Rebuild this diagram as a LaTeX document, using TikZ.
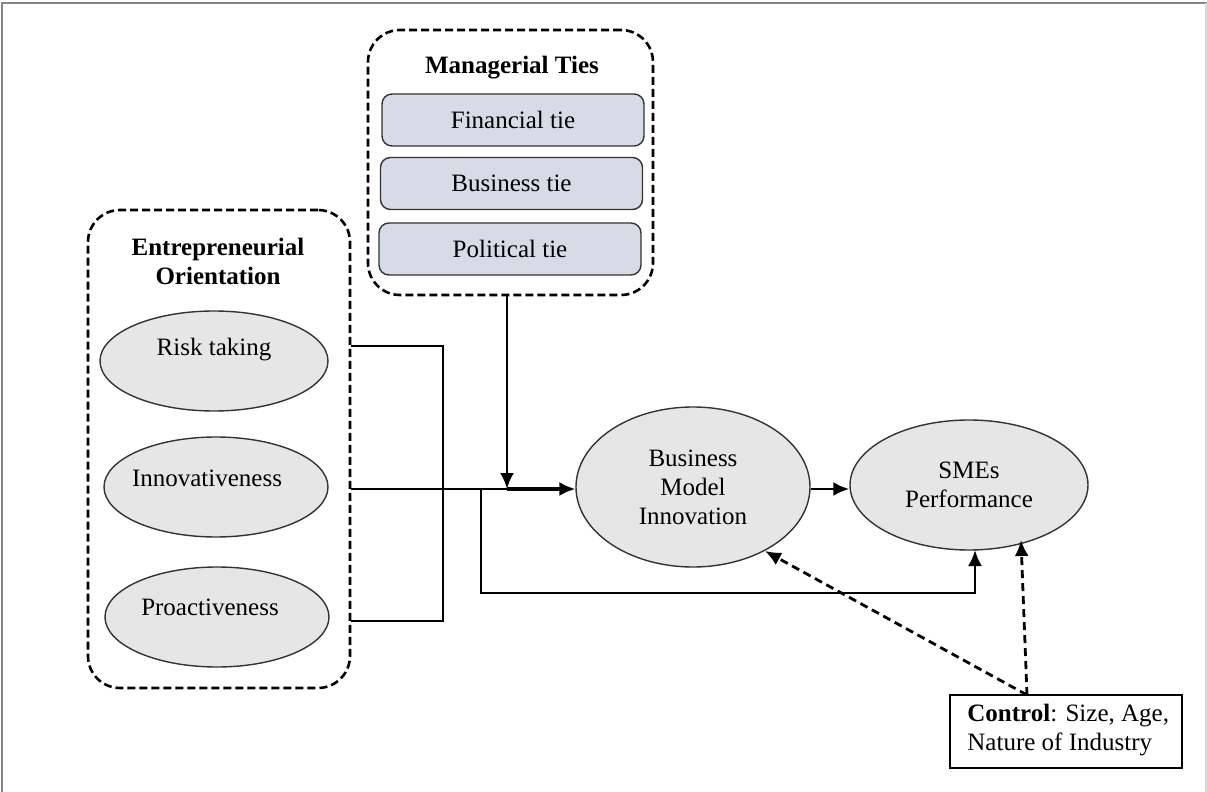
\documentclass[tikz,border=0pt]{standalone}
\usepackage{fontspec}
\setmainfont{Liberation Serif}
\usetikzlibrary{arrows.meta,shapes.geometric,calc}
\definecolor{ovalfill}{HTML}{E6E6E6}
\definecolor{tiefill}{HTML}{D6DCE5}
\definecolor{framegray}{HTML}{858585}
\begin{document}
\begin{tikzpicture}[x=0.5pt,y=-0.5pt,
  every node/.style={font=\fontsize{12.5}{14.5}\selectfont},
  group/.style={draw=black,line width=1.3pt,dash pattern=on 4pt off 2pt,rounded corners=16pt,inner sep=0pt},
  tiebox/.style={draw=black!80,line width=0.7pt,fill=tiefill,rounded corners=5pt,inner sep=0pt,minimum width=131pt,minimum height=26pt},
  oval/.style={ellipse,draw=black!80,line width=0.7pt,fill=ovalfill,inner sep=0pt},
  txt/.style={inner sep=0pt,align=center},
  link/.style={line width=1.3pt,line join=miter},
  arr/.style={link,-{Latex[length=8pt,width=7pt]}},
  dasharr/.style={line width=1.4pt,dash pattern=on 4pt off 2.5pt,-{Latex[length=8pt,width=7pt]}},
  ctrl/.style={draw=black,line width=0.9pt,inner sep=0pt,minimum width=116pt,minimum height=36.5pt}
]
\useasboundingbox (0,0) rectangle (1207,792);

% page frame
\draw[framegray,line width=1.4pt] (2,792) -- (2,3) -- (1207,3);
\draw[black!15,line width=0.6pt] (1206,3) -- (1206,792);

% Managerial ties group
\node[group,minimum width=142.5pt,minimum height=132.5pt] (mt) at (510.5,162.5) {};
\node[txt,font=\fontsize{12.5}{14.5}\selectfont\bfseries] (mttitle) at (512,68) {Managerial Ties};
\node[tiebox] (fin) at (513,120) {Financial tie};
\node[tiebox] (bus) at (511.5,183.5) {Business tie};
\node[tiebox] (pol) at (510,249) {Political tie};

% Entrepreneurial orientation group
\node[group,minimum width=131pt,minimum height=239pt] (eo) at (219,449) {};
\node[txt,font=\fontsize{12.5}{14.5}\selectfont\bfseries] (eotitle) at (218,261.5) {Entrepreneurial\\Orientation};
\node[oval,minimum width=114pt,minimum height=50pt] (risk) at (214,361) {};
\node[txt] (risktxt) at (214,350) {Risk taking};
\node[oval,minimum width=112pt,minimum height=50pt] (innov) at (216,487) {};
\node[txt] (innovtxt) at (207,478) {Innovativeness};
\node[oval,minimum width=112pt,minimum height=50pt] (proact) at (217,617) {};
\node[txt] (proacttxt) at (210,607) {Proactiveness};

% outcome constructs
\node[oval,minimum width=117pt,minimum height=80pt,align=center] (bmi) at (693,487) {Business\\Model\\Innovation};
\node[oval,minimum width=119pt,minimum height=65pt,align=center] (sme) at (969,485) {SMEs\\Performance};

% control variables
\node[ctrl] (ctrl) at (1066,731.5) {};
\node[txt,anchor=west,align=left] (ctrltxt) at (967,730.5) {\textbf{Control}: Size, Age,\\Nature of Industry};

% junction points of the connectors
\coordinate (riskout) at (eo.east |- 0,346);
\coordinate (innovout) at (eo.east |- 0,489);
\coordinate (proactout) at (eo.east |- 0,621);
\coordinate (bus1) at (443,346);
\coordinate (bus2) at (443,621);
\coordinate (split) at (481,489);
\coordinate (merge) at (507,489);
\coordinate (ctop) at (1027,695);

% EO dimensions to business model innovation
\draw[link] (riskout) -- (bus1) -- (bus2) -- (proactout);
\draw[arr] (innovout) -- (bmi.west |- innovout);
\draw[line width=2pt] (merge) -- ($(bmi.west |- innovout)+(-14,0)$);

% moderating effect of managerial ties
\draw[arr] (mt.south -| merge) -- (merge);

% direct path to SMEs performance
\draw[arr] (split) -- (481,593) -- (975,593) -- (975,550);

% mediator to outcome
\draw[arr] (bmi.east |- 0,489) -- (sme.west |- 0,489);

% control variables
\draw[dasharr] (ctop) -- (765,551);
\draw[dasharr] (ctop) -- (1021,540);
\end{tikzpicture}
\end{document}
